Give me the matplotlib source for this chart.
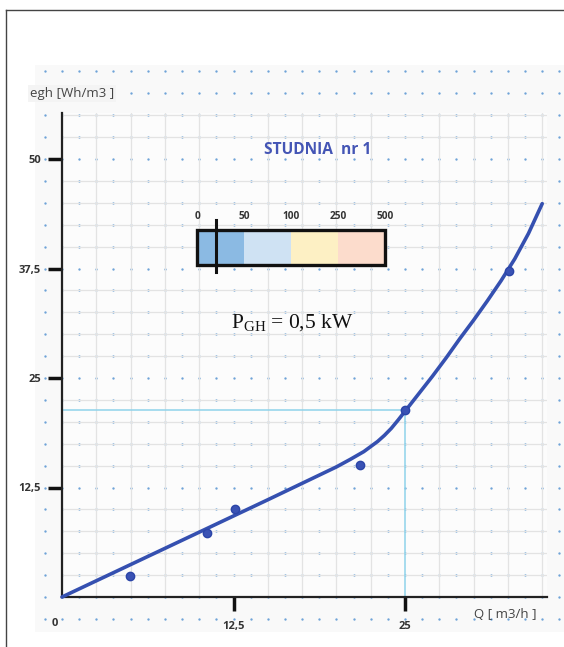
import numpy as np
import matplotlib
matplotlib.use("Agg")
import matplotlib.pyplot as plt
from matplotlib.patches import Rectangle
from matplotlib.lines import Line2D

# ---------------- DATA ---------------- #
# measured points (Q [m3/h], egh [Wh/m3])
q_points = [4.96, 10.55, 12.6, 21.7, 25.0, 32.6]
e_points = [2.4, 7.3, 10.1, 15.1, 21.3, 37.25]

# fitted characteristic
q_curve = [0, 2.5, 5, 7.5, 10, 12.5, 15, 16, 17, 18, 19, 20, 21, 22, 23,
           23.5, 24, 24.5, 25, 26, 27, 28, 29, 30, 31, 32, 33, 34, 35]
e_curve = [0, 1.85, 3.7, 5.55, 7.4, 9.25, 11.1, 11.85, 12.6, 13.35, 14.1,
           14.85, 15.7, 16.6, 17.75, 18.45, 19.25, 20.2, 21.2, 23.2, 25.2,
           27.3, 29.5, 31.6, 33.8, 36.1, 38.6, 41.5, 44.9]

# operating point guide lines
q_work = 25.0
e_work = 21.3

x_ticks = [12.5, 25]
x_tick_labels = ["12,5", "25"]
y_ticks = [12.5, 25, 37.5, 50]
y_tick_labels = ["12,5", "25", "37,5", "50"]

scale_labels = ["0", "50", "100", "250", "500"]
scale_colors = ["#8bbae3", "#cfe2f3", "#fdf0c4", "#fcdccc"]
scale_marker = 0.4  # position of marker inside first segment (fraction)

title = "STUDNIA  nr 1"
power_text = r"$\mathrm{P_{GH}}$ = 0,5 kW"

# ---------------- FIGURE ---------------- #
W, H = 564, 647
fig = plt.figure(figsize=(W / 100, H / 100), dpi=100)

# light background of the scanned chart and the page frame
fig.patches.append(Rectangle((35 / W, 1 - 632 / H), (W - 35) / W, (632 - 65) / H,
                             transform=fig.transFigure, facecolor="#f9f9f9",
                             edgecolor="none", zorder=-5))
fig.lines.append(Line2D([6 / W, 1], [1 - 10 / H, 1 - 10 / H], transform=fig.transFigure,
                        color="#444444", lw=1.0))
fig.lines.append(Line2D([6 / W, 6 / W], [0, 1 - 10 / H], transform=fig.transFigure,
                        color="#444444", lw=1.0))

x0, y0, x1, y1 = 62, 597, 547, 113
ax = fig.add_axes([x0 / W, 1 - y0 / H, (x1 - x0) / W, (y0 - y1) / H])
ax.set_facecolor("#fcfcfc")
xmax = (x1 - x0) / 13.72
ymax = (y0 - y1) / 8.76
ax.set_xlim(0, xmax)
ax.set_ylim(0, ymax)

for s in ["top", "right"]:
    ax.spines[s].set_visible(False)
for s in ["left", "bottom"]:
    ax.spines[s].set_color("#222222")
    ax.spines[s].set_linewidth(1.6)

# grid every 2.5
ax.set_xticks(np.arange(0, xmax, 2.5), minor=True)
ax.set_yticks(np.arange(0, ymax, 2.5), minor=True)
ax.grid(which="minor", color="#e3e3e3", lw=0.9)
ax.tick_params(which="minor", length=0)

ax.set_xticks(x_ticks)
ax.set_xticklabels(x_tick_labels)
ax.set_yticks(y_ticks)
ax.set_yticklabels(y_tick_labels)
ax.tick_params(which="major", direction="out", length=10, width=2.5, color="#111111",
               labelsize=8, labelcolor="#333333", pad=5)
ax.tick_params(axis="x", pad=7)
for lab in ax.get_xticklabels() + ax.get_yticklabels():
    lab.set_fontweight("bold")
    lab.set_family("Open Sans")

# dotted lattice of the background paper
gx = np.arange(-1.25, 36.3, 1.25)
gy = np.arange(-2.5, 60.1, 2.5)
GX, GY = np.meshgrid(gx, gy)
ax.plot(GX.ravel(), GY.ravel(), ls="none", marker="o", ms=1.7, mew=0,
        color="#6fa3d8", clip_on=False, zorder=1)

# operating point guides
ax.plot([0, q_work], [e_work, e_work], color="#8fd3ea", lw=1.1, zorder=2)
ax.plot([q_work, q_work], [0, e_work], color="#8fd3ea", lw=1.1, zorder=2)

# curve and points
ax.plot(q_curve, e_curve, color="#3550b0", lw=2.6, solid_joinstyle="round",
        solid_capstyle="round", zorder=4, clip_on=False)
ax.plot(q_points, e_points, ls="none", marker="o", ms=6, color="#3a52b4",
        mec="#2b45a8", zorder=5)

# axis labels
ax.text(-0.55, -3.0, "0", ha="center", va="center", fontsize=8, fontweight="bold",
        color="#333333", family="Open Sans")
ax.text(-2.35, 57.5, "egh [Wh/m3 ]", ha="left", va="center", fontsize=9.5,
        color="#444444", family="Open Sans",
        bbox=dict(facecolor="#f4f4f4", edgecolor="none", pad=1.5))
ax.text(30.0, -2.0, "Q [ m3/h ]", ha="left", va="center", fontsize=9.5,
        color="#444444", family="Open Sans")

# title
ax.text(18.6, 51.0, title, ha="center", va="center", fontsize=11.2, fontweight="bold",
        color="#4455b5", family="Open Sans")

# colour scale
bx0, bx1 = 9.84, 23.54
by0, by1 = 37.9, 41.9
n = len(scale_colors)
edges = np.linspace(bx0, bx1, n + 1)
for i, c in enumerate(scale_colors):
    ax.add_patch(Rectangle((edges[i], by0), edges[i + 1] - edges[i], by1 - by0,
                           facecolor=c, edgecolor="none", zorder=6))
ax.add_patch(Rectangle((bx0, by0), bx1 - bx0, by1 - by0, facecolor="none",
                       edgecolor="#111111", lw=2.4, zorder=7))
for pos, lab in zip(edges, scale_labels):
    ax.text(pos, 43.4, lab, ha="center", va="center", fontsize=7.3, fontweight="bold",
            color="#333333", family="Open Sans", zorder=7)
mx = edges[0] + scale_marker * (edges[1] - edges[0])
ax.plot([mx, mx], [37.1, 43.0], color="#111111", lw=2.2, zorder=8)

# power text
plt.rcParams["mathtext.fontset"] = "custom"
plt.rcParams["mathtext.rm"] = "Liberation Serif"
ax.text(16.8, 31.3, power_text, ha="center", va="center", fontsize=15.5,
        family="Liberation Serif", color="#111111", zorder=7)

fig.savefig("out.png", dpi=100)
